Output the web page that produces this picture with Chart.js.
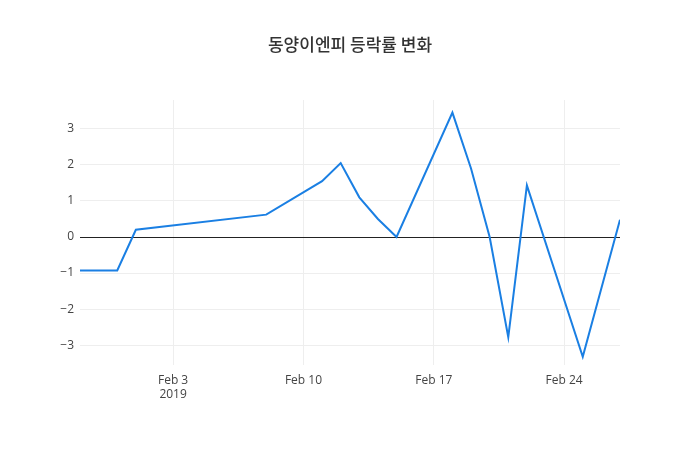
<!DOCTYPE html>
<html><head><meta charset="utf-8">
<script src="https://cdn.jsdelivr.net/npm/chart.js@4"></script>
<style>body{margin:0;background:#fff}#w{width:700px;height:450px}</style>
</head><body><div id="w"><canvas id="c"></canvas></div>
<script>
// x = day number where Feb 1 2019 = 1 (Jan 29 = -2)
const days = [-2, 0, 1, 8, 11, 12, 13, 14, 15, 18, 19, 20, 21, 22, 25, 27];
const values = [-0.93, -0.93, 0.2, 0.62, 1.55, 2.05, 1.1, 0.5, 0.0, 3.45, 1.9, 0.0, -2.78, 1.43, -3.32, 0.48];
const tickDays = [3, 10, 17, 24];
const tickLabels = [['Feb 3', '2019'], 'Feb 10', 'Feb 17', 'Feb 24'];
const title = '동양이엔피 등락률 변화';
const font = "'Open Sans', 'Noto Sans CJK KR', sans-serif";

const titlePlugin = {id:'t', afterDraw(ch){const c=ch.ctx;c.save();c.font="500 17px 'Noto Sans CJK KR', sans-serif";c.fillStyle='#333';c.textAlign='center';c.textBaseline='middle';c.fillText(title,350,45);c.restore();}};

new Chart(document.getElementById('c'), {
  type:'line',
  data:{datasets:[{data:days.map((d,i)=>({x:d,y:values[i]})),borderColor:'#1a7fe3',borderWidth:2,pointRadius:0,tension:0,fill:false}]},
  options:{responsive:true,maintainAspectRatio:false,animation:false,
    layout:{padding:{top:100,right:80,left:0,bottom:0}},
    plugins:{legend:{display:false},tooltip:{enabled:false}},
    scales:{
      x:{type:'linear',min:-2,max:27,
        afterBuildTicks(a){a.ticks=tickDays.map(v=>({value:v}));},
        afterFit(a){a.height=85;},
        grid:{color:'#eeeeee',drawTicks:false},border:{display:false},
        ticks:{padding:8,color:'#444',font:{family:font,size:12},maxRotation:0,
          callback(v){const i=tickDays.indexOf(v);return i>=0?tickLabels[i]:'';}}},
      y:{min:-3.55,max:3.8,
        afterBuildTicks(a){a.ticks=[-3,-2,-1,0,1,2,3].map(v=>({value:v}));},
        afterFit(a){a.width=80;},
        grid:{color:c=>c.tick&&c.tick.value===0?'#222':'#eeeeee',lineWidth:1,drawTicks:false},border:{display:false},
        ticks:{padding:6,color:'#444',font:{family:font,size:12},
          callback(v){return v<0?'\u2212'+Math.abs(v):String(v);}}}
    }},
  plugins:[titlePlugin]
});
</script></body></html>
